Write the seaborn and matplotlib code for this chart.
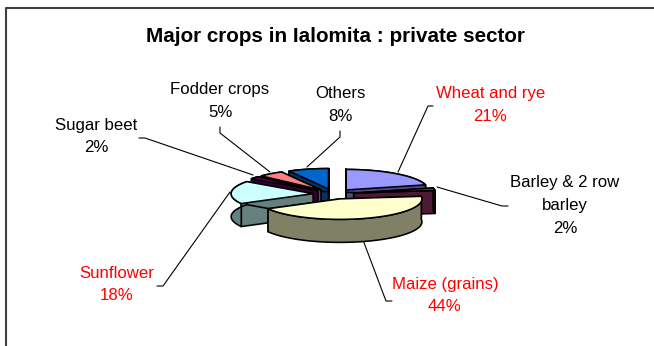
import numpy as np
import matplotlib
matplotlib.use("Agg")
import matplotlib.pyplot as plt
import seaborn as sns
from matplotlib.patches import Polygon

crops = ["Wheat and rye", "Barley & 2 row\nbarley", "Maize (grains)", "Sunflower",
         "Sugar beet", "Fodder crops", "Others"]
shares = [21, 2, 44, 18, 2, 5, 8]
top_colors = ["#9999FF", "#993366", "#FFFFCC", "#CCFFFF", "#660066", "#FF8080", "#0066CC"]
label_colors = ["#FF0000", "black", "#FF0000", "#FF0000", "black", "black", "black"]
title = "Major crops in Ialomita : private sector"

sns.set_theme(style="white")
plt.rcParams['font.family'] = ['Liberation Sans', 'DejaVu Sans']

W, H = 654, 346
fig = plt.figure(figsize=(W / 100, H / 100), dpi=100)
ax = fig.add_axes([0, 0, 1, 1])
ax.set_xlim(0, W)
ax.set_ylim(H, 0)
ax.axis("off")

CX, CY, RX, RY, DEPTH, EXPLODE = 333.6, 194.0, 82.0, 20.5, 23.0, 0.25


def project(X, Y):
    return np.column_stack([CX + RX * np.asarray(X), CY + RY * np.asarray(Y)])


edges = np.cumsum([0] + shares) / sum(shares) * 2 * np.pi
slices = {}
for i in range(len(shares)):
    a0, a1 = edges[i], edges[i + 1]
    mid = (a0 + a1) / 2
    ox, oy = EXPLODE * np.sin(mid), -EXPLODE * np.cos(mid)
    t = np.linspace(a0, a1, 80)
    slices[i] = (project(ox + np.sin(t), oy - np.cos(t)), project([ox], [oy]))

order = [0, 6, 5, 4, 3, 1, 2]
for z, i in enumerate(order):
    arc, tip = slices[i]
    rgb = np.array(matplotlib.colors.to_rgb(top_colors[i])) * 0.5
    down = np.array([0, DEPTH])
    kw = dict(facecolor=rgb, edgecolor="black", linewidth=1.15, zorder=2 + z * 0.1, joinstyle="round")
    ax.add_patch(Polygon(np.vstack([tip, arc[0:1], arc[0:1] + down, tip + down]), **kw))
    ax.add_patch(Polygon(np.vstack([tip, arc[-1:], arc[-1:] + down, tip + down]), **kw))
    ax.add_patch(Polygon(np.vstack([arc, (arc + down)[::-1]]), **kw))
    ax.add_patch(Polygon(np.vstack([tip, arc]), facecolor=top_colors[i], edgecolor="black",
                         linewidth=1.15, zorder=2.05 + z * 0.1))

# chart area border
ax.plot([6, 6, W], [H, 8, 8], color="#404040", lw=1.5, clip_on=False, zorder=1)

ax.text(335.5, 36, title, ha="center", va="center", fontsize=14.9, fontweight="bold", color="black")

label_xy = [(490.5, 105), (565, 205.5), (445, 295.5), (117, 284.5), (96, 136.5), (220, 101), (340, 105)]
for name, s, c, (x, y) in zip(crops, shares, label_colors, label_xy):
    ax.text(x, y, f"{name}\n{s}%", ha="center", va="center", fontsize=12.1, color=c, linespacing=1.65)

leaders = [
    [(433, 106), (428, 106), (398, 172)],
    [(437, 187), (502, 206), (508, 206)],
    [(363, 240), (386, 301), (392, 301)],
    [(157, 286), (163, 286), (230, 192)],
    [(139, 138), (145, 138), (253, 175)],
    [(220, 127), (220, 133), (270, 172)],
    [(340, 131), (340, 137), (307, 167)],
]
for pts in leaders:
    p = np.array(pts)
    ax.plot(p[:, 0], p[:, 1], color="black", lw=0.8, zorder=1.5)

fig.savefig("out.png", dpi=100, facecolor="white")
